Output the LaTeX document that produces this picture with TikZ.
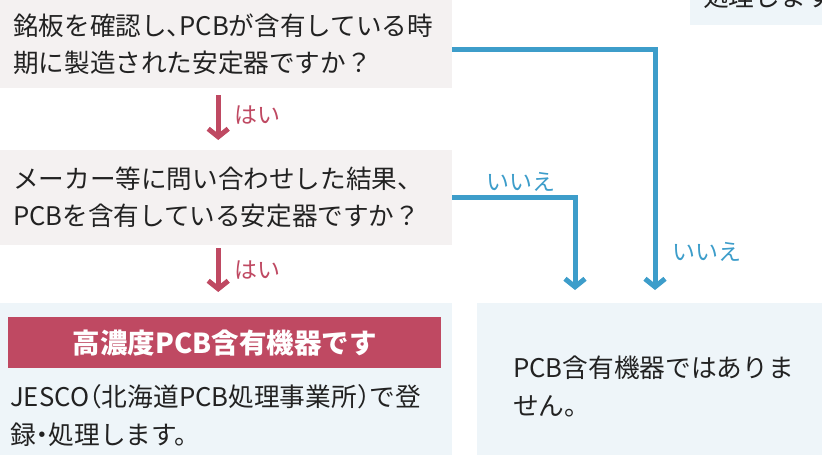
\documentclass[tikz,border=0pt]{standalone}
\usepackage{fontspec}
\setmainfont{Noto Sans CJK JP}
\usetikzlibrary{arrows.meta, positioning, calc}
\definecolor{qgray}{HTML}{F4F1F1}
\definecolor{ablue}{HTML}{EEF5F9}
\definecolor{yesred}{HTML}{BF4962}
\definecolor{noblue}{HTML}{3D9DCA}
\definecolor{txt}{HTML}{222222}
\newcommand\hw[1]{{\addfontfeatures{RawFeature=+halt}#1}}

\begin{document}
\begin{tikzpicture}[x=1pt, y=-1pt,
    qbox/.style={fill=qgray, anchor=north west, minimum width=452pt, text width=426pt,
      inner xsep=13pt, inner ysep=0pt, align=left, text=txt, font=\fontsize{25.6}{37}\selectfont},
    abox/.style={fill=ablue, anchor=north west, inner sep=0pt},
    atext/.style={anchor=west, align=left, text=txt, inner sep=0pt, font=\fontsize{25.7}{38}\selectfont},
    yesarrow/.style={yesred, line width=5pt, -{Straight Barb[length=8pt, width=20pt]}},
    noarrow/.style={noblue, line width=5pt, -{Straight Barb[length=8pt, width=20pt]}},
    yeslabel/.style={yesred, font=\fontsize{23}{23}\selectfont},
    nolabel/.style={noblue, font=\fontsize{23}{23}\selectfont}]

  \useasboundingbox (0,0) rectangle (822,455);
  \clip (0,0) rectangle (822,455);

  % question boxes
  \node[qbox, minimum height=88pt] (q1) at (0,0)
    {銘板を確認し\hw{、}PCBが含有している時\\期に製造された安定器ですか？};
  \node[qbox, minimum height=95pt] (q2) at (0,150)
    {メーカー等に問い合わせした結果、\\PCBを含有している安定器ですか？};

  % answer boxes
  \node[abox, minimum width=452pt, minimum height=160pt] (a1) at (0,303) {};
  \node[fill=yesred, anchor=north west, minimum width=433pt, minimum height=51pt, inner sep=0pt,
    text=white, font=\fontsize{27.5}{27.5}\selectfont\bfseries] (hi) at (8,317) {高濃度PCB含有機器です};
  \node[atext] (a1t) at (10,416) {JESCO\hw{（}北海道PCB処理事業所\hw{）}で登\\録\hw{・}処理します。};

  \node[abox, minimum width=350pt, minimum height=160pt] (a2) at (477,303) {};
  \node[atext] (a2t) at (513,386) {PCB含有機器ではありま\\せん。};

  \node[abox, minimum width=140pt, minimum height=60pt] (a0) at (690,-35) {};
  \node[atext] (a0t) at (703,-3) {処理します。};

  % yes
  \draw[yesarrow, shorten <=7pt, shorten >=10pt] ([xshift=-8pt]q1.south) -- ([xshift=-8pt]q2.north)
    node[midway, right, yeslabel, xshift=10pt, yshift=4pt] {はい};
  \draw[yesarrow, shorten <=3pt, shorten >=11pt] ([xshift=-8pt]q2.south) -- ([xshift=-8pt]a1.north -| q2.south)
    node[midway, right, yeslabel, xshift=10pt, yshift=4pt] {はい};

  % no
  \coordinate (noA) at (655,303);
  \coordinate (noB) at (575,303);
  \draw[noarrow, shorten >=13pt] ([yshift=-5pt]q1.east) -| (noA);
  \node[nolabel] (noAl) at (707,252) {いいえ};
  \draw[noarrow, shorten >=13pt] (q2.east) -| (noB)
    node[pos=0.28, above, nolabel] {いいえ};

\end{tikzpicture}
\end{document}
